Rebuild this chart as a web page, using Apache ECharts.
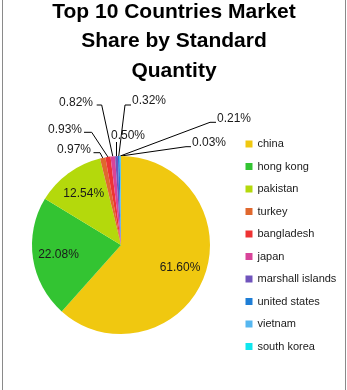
<!DOCTYPE html>
<html><head><meta charset="utf-8">
<script src="https://cdn.jsdelivr.net/npm/echarts@6/dist/echarts.min.js"></script>
<style>html,body{margin:0;padding:0;background:#fff}#c{width:347px;height:390px}</style>
</head><body><div id="c"></div>
<script>
const countries = ['china','hong kong','pakistan','turkey','bangladesh','japan','marshall islands','united states','vietnam','south korea'];
const shares = [61.60, 22.08, 12.54, 0.97, 0.93, 0.82, 0.50, 0.32, 0.21, 0.03];
const colors = ['#F0C810','#33C432','#B4D90C','#E0682E','#EE3333','#D8449A','#7054BC','#1E7ED6','#56B7F0','#10E6EE'];
const titleText = 'Top 10 Countries Market\nShare by Standard\nQuantity';

const CX = 121, CY = 245, R = 89;
// outside label layout for thin slices: [textX, textY, align, elbowX, elbowY, endX]
const outerLabels = {
  3: [91, 150, 'right', 100, 152.7, 93.5],
  4: [82, 129.3, 'right', 91.7, 132.3, 84],
  5: [93, 102.3, 'right', 101.7, 105, 96.7],
  6: [111, 135.5, 'left', 116.5, 142, 116.5],
  7: [132, 101, 'left', 125, 105, 131],
  8: [217, 118.3, 'left', 210, 122.3, 216],
  9: [192, 142.3, 'left', 186, 146.7, 191]
};

const total = shares.reduce((a, b) => a + b, 0);
const cum = [];
shares.reduce((acc, v, i) => { cum[i] = acc; return acc + v; }, 0);
function midAngle(i) { return (cum[i] + shares[i] / 2) / total * Math.PI * 2; }

const chart = echarts.init(document.getElementById('c'), null, {renderer: 'canvas'});
chart.setOption({
  animation: false,
  color: colors,
  title: {
    text: titleText, left: 174, top: -3, padding: 0, textAlign: 'center',
    textStyle: {fontFamily: 'Liberation Sans', fontWeight: 'bold', fontSize: 21, lineHeight: 29.6, color: '#000', align: 'center'}
  },
  legend: {
    orient: 'vertical', left: 245.5, top: 137, padding: 0,
    itemWidth: 7, itemHeight: 7, itemGap: 8.5, icon: 'rect',
    textStyle: {fontFamily: 'Liberation Sans', fontSize: 11, lineHeight: 14, color: '#1a1a1a'},
    selectedMode: false,
    data: countries
  },
  graphic: [{
    type: 'rect', silent: true,
    shape: {x: 2.5, y: -5, width: 343, height: 400},
    style: {fill: 'none', stroke: '#8a8a8a', lineWidth: 1}
  }],
  series: [{
    type: 'pie',
    center: [CX, CY], radius: R,
    startAngle: 90, clockwise: true,
    avoidLabelOverlap: false,
    silent: true,
    itemStyle: {borderWidth: 0},
    emphasis: {disabled: true},
    label: {
      show: true,
      fontFamily: 'Liberation Sans', fontSize: 12, color: '#1a1a1a',
      formatter: p => p.value.toFixed(2) + '%'
    },
    labelLine: {show: true, lineStyle: {color: '#000', width: 1}, length: 5, length2: 5},
    data: countries.map((n, i) => ({
      name: n, value: shares[i],
      label: i < 3 ? {position: 'inside'} : {position: 'outside'},
      labelLine: {show: i >= 3}
    })),
    labelLayout: function (params) {
      const i = params.dataIndex;
      const a = midAngle(i);
      if (i < 3) {
        return {x: CX + 0.71 * R * Math.sin(a), y: CY - 0.71 * R * Math.cos(a), align: 'center', verticalAlign: 'middle'};
      }
      const o = outerLabels[i];
      const edge = [CX + R * Math.sin(a), CY - R * Math.cos(a)];
      return {
        x: o[0], y: o[1], align: o[2], verticalAlign: 'middle',
        labelLinePoints: [edge, [o[3], o[4]], [o[5], o[4]]]
      };
    }
  }]
});
</script></body></html>
